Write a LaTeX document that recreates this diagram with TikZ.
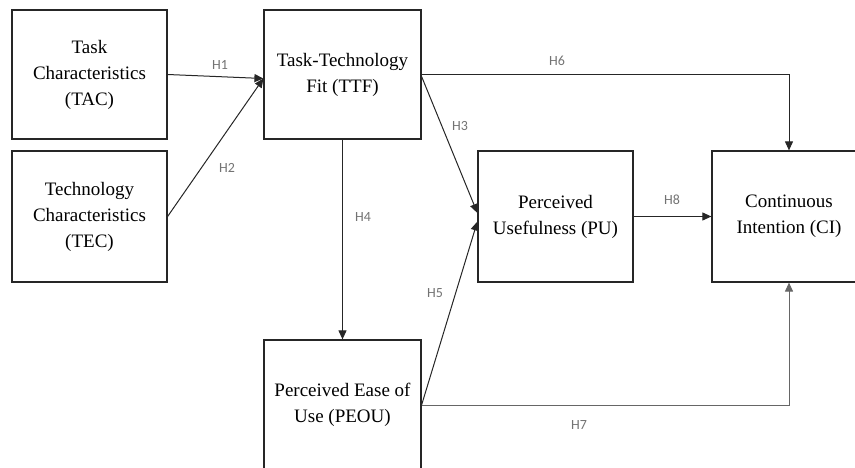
\documentclass[tikz,border=0pt]{standalone}
\usepackage{fontspec}
\setmainfont{Liberation Serif}
\newfontfamily\labfont{Carlito}
\usetikzlibrary{arrows.meta}
\begin{document}
\begin{tikzpicture}[x=1pt,y=-1pt,
  box/.style={draw=black!85,line width=1.2pt,rectangle,minimum width=155pt,minimum height=129pt,
    align=center,font=\fontsize{19}{26}\selectfont,inner sep=0pt},
  conn/.style={draw=black!85,line width=1pt,-{Triangle[length=9pt,width=8pt]}},
  hlab/.style={font=\labfont\fontsize{14}{16}\selectfont,text=black!55,inner sep=0pt}]
\useasboundingbox (0,0) rectangle (855,468);
\node[box] (tac) at (89.5,74.5) {Task\\Characteristics\\(TAC)};
\node[box,minimum height=131pt] (tec) at (89.5,216.5) {Technology\\Characteristics\\(TEC)};
\node[box,minimum width=157pt] (ttf) at (342.5,74.5) {Task-Technology\\Fit (TTF)};
\node[box,minimum width=157pt,minimum height=130pt] (peou) at (342.5,405) {Perceived Ease of\\Use (PEOU)};
\node[box,minimum height=131pt] (pu) at (555.5,216.5) {Perceived\\Usefulness (PU)};
\node[box,minimum width=154pt,minimum height=131pt] (ci) at (789,216.5) {Continuous\\Intention (CI)};
\draw[conn] (tac.east) -- ([yshift=-4pt]ttf.west);
\draw[conn] (tec.east) -- ([yshift=-4pt]ttf.west);
\draw[conn] ([yshift=-2pt]ttf.east) -- ([yshift=3.5pt]pu.west);
\draw[conn] (peou.east) -- ([yshift=-5pt]pu.west);
\draw[conn] (ttf.south) -- (peou.north);
\draw[conn] (ttf.east) -| (ci.north);
\draw[conn,draw=black!60] (peou.east) -| (ci.south);
\draw[conn] (pu.east) -- (ci.west);
\node[hlab] (h1) at (220,65) {H1};
\node[hlab] (h2) at (227,168) {H2};
\node[hlab] (h3) at (460,126) {H3};
\node[hlab] (h4) at (363,217) {H4};
\node[hlab] (h5) at (435,293) {H5};
\node[hlab] (h6) at (557,61) {H6};
\node[hlab] (h7) at (579,425) {H7};
\node[hlab] (h8) at (672,200) {H8};
\end{tikzpicture}
\end{document}
